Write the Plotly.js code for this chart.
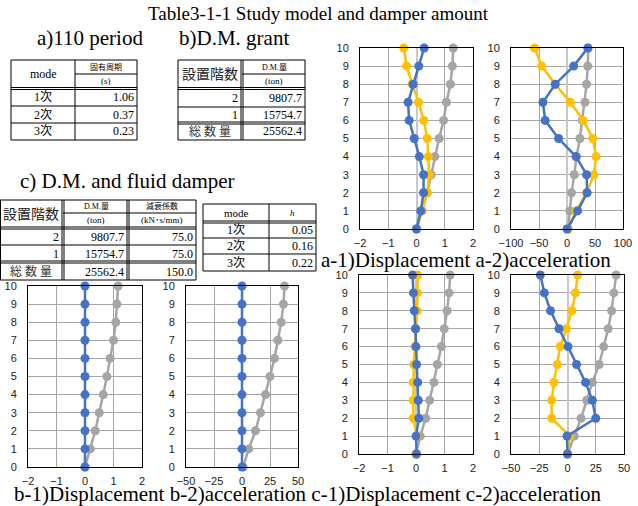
<!DOCTYPE html>
<html><head><meta charset="utf-8">
<script src="https://cdn.plot.ly/plotly-3.0.1.min.js"></script>
<style>html,body{margin:0;padding:0;background:#fff}#chart{width:638px;height:506px}</style>
</head><body><div id="chart"></div>
<script>
// ---- data ----
const floors = [0,1,2,3,4,5,6,7,8,9,10];
const a1_gray   = [0, 0.2, 0.38, 0.52, 0.65, 0.8, 0.96, 1.06, 1.2, 1.27, 1.3];
const a1_orange = [0, 0.2, 0.38, 0.45, 0.42, 0.38, 0.26, 0.07, -0.15, -0.35, -0.45];
const a1_blue   = [0, 0.15, 0.25, 0.25, 0.1, -0.08, -0.26, -0.3, -0.12, 0.08, 0.27];
const a2_gray   = [2, 5, 8, 13, 17, 23, 27, 32, 35, 37, 38];
const a2_orange = [2, 16, 35, 48, 52, 46, 29, 6, -21, -45, -58];
const a2_blue   = [0, 19, 36, 35, 16, -15, -39, -43, -21, 12, 37];
const b1_gray   = [0, 0.19, 0.36, 0.5, 0.64, 0.77, 0.88, 1.0, 1.08, 1.12, 1.16];
const b1_blue   = [0, 0, 0, 0, 0, 0, 0, 0, 0, 0, 0];
const b2_gray   = [1, 6, 12, 16.5, 21, 25, 29, 32, 35, 37, 38];
const b2_blue   = [0, 0, 0, 0, 0, 0, 0, 0, 0, 0, 0];
const c1_gray   = [0, 0.15, 0.34, 0.48, 0.63, 0.75, 0.89, 0.99, 1.09, 1.16, 1.2];
const c1_orange = [0, 0.03, -0.1, -0.1, -0.1, -0.08, -0.04, 0.0, 0.04, 0.05, 0.06];
const c1_blue   = [0.02, 0, 0.1, 0.08, 0.06, 0.02, 0, -0.02, -0.06, -0.09, -0.12];
const c2_gray   = [0, 6, 12, 17, 22, 28, 32, 36, 39, 41, 43];
const c2_orange = [0, 2, -14, -14, -12, -9, -6.5, -1, 4, 7, 9];
const c2_blue   = [0, -0.5, 25, 22, 16, 8, 0.5, -7.5, -15, -20.5, -24];

const modes = ['1次','2次','3次'];
const periods = ['1.06','0.37','0.23'];
const setFloors = ['2','1'];
const dmTon = ['9807.7','15754.7'];
const dmTotal = '25562.4';
const dampCoef = ['75.0','75.0'];
const dampTotal = '150.0';
const hVals = ['0.05','0.16','0.22'];

// ---- helpers ----
const W = 638, H = 506;
const X = p => p / W, Y = p => 1 - p / H;
const serif = "Liberation Serif, 'Noto Sans CJK JP', serif";
const shapes = [], annotations = [];
function hl(x0, x1, y, w) { shapes.push({type:'line', xref:'paper', yref:'paper', x0:X(x0), x1:X(x1), y0:Y(y), y1:Y(y), line:{color:'#000', width:w||1}}); }
function vl(x, y0, y1, w) { shapes.push({type:'line', xref:'paper', yref:'paper', x0:X(x), x1:X(x), y0:Y(y0), y1:Y(y1), line:{color:'#000', width:w||1}}); }
function txt(t, x, y, size, anchor, color) {
  annotations.push({text:t, xref:'paper', yref:'paper', x:X(x), y:Y(y), showarrow:false,
    xanchor:anchor||'center', yanchor:'middle', font:{family:serif, size:size, color:color||'#000'}});
}

// ---- titles ----
txt('Table3-1-1 Study model and damper amount', 318, 14, 19);
txt('a)110 period', 90, 38, 21);
txt('b)D.M. grant', 234, 38, 21);
txt('c) D.M. and fluid damper', 127, 181, 21);
txt('a-1)Displacement a-2)acceleration', 466, 260, 21);
txt('b-1)Displacement b-2)acceleration c-1)Displacement c-2)acceleration', 308, 494, 21);

// ---- table a ----
hl(11,137,60); hl(75,137,74); hl(11,137,87.5); hl(11,137,89.5); hl(11,137,106); hl(11,137,123); hl(11,137,140);
vl(11,60,140); vl(75,60,140); vl(137,60,140);
txt('mode', 43, 74, 12); txt('固有周期', 106, 67, 8); txt('(s)', 106, 81, 9);
modes.forEach((m,i)=>{ const y=[97,114.5,131.5][i]; txt(m, 43, y, 12); txt(periods[i], 136, y, 12, 'right'); });

// ---- table b ----
hl(178,305,60); hl(242,305,74); hl(178,305,87.5); hl(178,305,89.5); hl(178,305,107); hl(178,305,122); hl(178,305,124); hl(178,305,140);
vl(178,60,140); vl(241,60,140); vl(243,60,140); vl(305,60,140);
txt('設置階数', 210, 74, 14, 'center', '#222'); txt('D.M.量', 274, 67, 8); txt('(ton)', 274, 81, 9);
setFloors.forEach((f,i)=>{ const y=[97.5,115][i]; txt(f, 240, y, 12, 'right'); txt(dmTon[i], 304, y, 12, 'right'); });
txt('総 数 量', 210, 131.5, 12, 'center', '#333'); txt(dmTotal, 304, 131.5, 12, 'right');

// ---- table c ----
hl(0,196,200); hl(63,196,213); hl(0,196,227); hl(0,196,229); hl(0,196,245); hl(0,196,261); hl(0,196,263); hl(0,196,280);
vl(0.5,200,280); vl(62,200,280); vl(64,200,280); vl(127,200,280); vl(129,200,280); vl(196,200,280);
txt('設置階数', 31, 214, 14, 'center', '#222'); txt('D.M.量', 96, 206, 8); txt('(ton)', 96, 220, 9);
txt('減衰係数', 162, 206, 8); txt('(kN･s/mm)', 162, 220, 9);
setFloors.forEach((f,i)=>{ const y=[237,253.5][i]; txt(f, 61, y, 12, 'right'); txt(dmTon[i], 126, y, 12, 'right'); txt(dampCoef[i], 195, y, 12, 'right'); });
txt('総 数 量', 31, 271.5, 12, 'center', '#333'); txt(dmTotal, 126, 271.5, 12, 'right'); txt(dampTotal, 195, 271.5, 12, 'right');

// ---- mode table ----
hl(203,316,204); hl(203,316,221); hl(203,316,223); hl(203,316,238); hl(203,316,254); hl(203,316,271);
vl(203,204,271); vl(269,204,271); vl(316,204,271);
txt('mode', 236, 213, 11); txt('<i>h</i>', 292, 213, 9);
modes.forEach((m,i)=>{ const y=[230,246.5,262.5][i]; txt(m, 236, y, 12); txt(hVals[i], 315, y, 12, 'right'); });

// ---- charts ----
const GRAY='#a5a5a5', ORANGE='#ffc000', BLUE='#4472c4';
const traces = [];
function tr(x, color, n) {
  traces.push({type:'scatter', mode:'lines+markers', x:x, y:floors, xaxis:'x'+(n>1?n:''), yaxis:'y'+(n>1?n:''),
    line:{color:color, width:2.5}, marker:{size:9, color:color}, showlegend:false, cliponaxis:false, hoverinfo:'skip'});
}
tr(a1_gray,GRAY,1); tr(a1_orange,ORANGE,1); tr(a1_blue,BLUE,1);
tr(a2_gray,GRAY,2); tr(a2_orange,ORANGE,2); tr(a2_blue,BLUE,2);
tr(b1_gray,GRAY,3); tr(b1_blue,BLUE,3);
tr(b2_gray,GRAY,4); tr(b2_blue,BLUE,4);
tr(c1_gray,GRAY,5); tr(c1_orange,ORANGE,5); tr(c1_blue,BLUE,5);
tr(c2_gray,GRAY,6); tr(c2_orange,ORANGE,6); tr(c2_blue,BLUE,6);

const layout = {width:W, height:H, margin:{l:0,r:0,t:0,b:0}, paper_bgcolor:'#fff', plot_bgcolor:'#fff',
  showlegend:false, shapes:shapes, annotations:annotations, font:{family:'Liberation Sans, Arial, sans-serif'}};
const panels = [
  {x:[360,473], y:[48,229], r:[-2,2], d:1},
  {x:[511,623], y:[48,229], r:[-100,100], d:50},
  {x:[28,142],  y:[286,467], r:[-2,2], d:1},
  {x:[186,298], y:[286,467], r:[-50,50], d:25},
  {x:[359,473], y:[275,454], r:[-2,2], d:1},
  {x:[511,624], y:[275,454], r:[-50,50], d:25},
];
panels.forEach((p,i)=>{
  const n = i+1, s = n>1?n:'';
  const common = {showline:true, mirror:true, linecolor:'#000', linewidth:1, showgrid:true, gridcolor:'#a6a6a6', gridwidth:1,
    ticks:'', tickfont:{size:11, color:'#222', family:'Liberation Sans, Arial, sans-serif'}, fixedrange:true};
  layout['xaxis'+s] = Object.assign({}, common, {domain:[X(p.x[0]),X(p.x[1])], anchor:'y'+s, range:p.r, dtick:p.d, tick0:0,
    zeroline:true, zerolinecolor:'#c8c8c8', zerolinewidth:2, ticklabelstandoff:4});
  layout['yaxis'+s] = Object.assign({}, common, {domain:[Y(p.y[1]),Y(p.y[0])], anchor:'x'+s, range:[0,10], dtick:1, tick0:0,
    zeroline:false, ticklabelstandoff:8});
});
Plotly.newPlot('chart', traces, layout, {staticPlot:true, displayModeBar:false});
</script></body></html>
